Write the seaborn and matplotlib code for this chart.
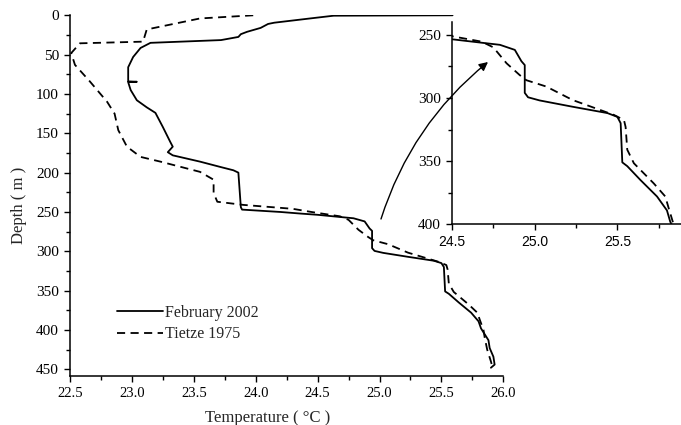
import matplotlib
matplotlib.use("Agg")
import matplotlib.pyplot as plt
import seaborn as sns
import pandas as pd
from matplotlib.lines import Line2D
from matplotlib.ticker import MultipleLocator

# ---- data ----
feb_depth = [0, 0.5, 3.8, 9.4, 11, 16, 21, 24, 27.5, 31.5, 35, 41.5, 53, 66, 84, 84.5, 85,
             95, 108, 117, 124, 142, 161, 167, 174, 178, 186, 193, 197, 200, 244, 247, 250, 252,
             253.6, 256.8, 258, 262, 271, 274, 296, 299.5, 302, 307, 312, 315, 320, 351, 354,
             365, 378, 389, 398, 413, 423, 434, 444, 448]
feb_temp = [25.59, 24.63, 24.45, 24.15, 24.10, 24.04, 23.93, 23.88, 23.86, 23.72, 23.15,
            23.07, 23.01, 22.97, 22.97, 23.04, 22.97, 22.99, 23.04, 23.12, 23.19, 23.25, 23.31,
            23.33, 23.29, 23.33, 23.55, 23.72, 23.82, 23.86, 23.88, 23.89, 24.20, 24.36,
            24.50, 24.71, 24.79, 24.88, 24.92, 24.94, 24.94, 24.96, 25.03, 25.23, 25.44, 25.50,
            25.52, 25.53, 25.56, 25.64, 25.74, 25.80, 25.82, 25.88, 25.89, 25.92, 25.93, 25.90]

tie_depth = [0, 4, 18, 33.5, 35.6, 48, 63, 84, 110, 125, 146, 167, 180, 186, 199, 209, 226,
             237, 241, 246, 250, 255.5, 260, 272.6, 282, 286, 291, 301.7, 313.5, 317.5, 323, 341,
             351.7, 367.6, 378, 387, 400, 410, 425, 440, 446]
tie_temp = [23.98, 23.55, 23.12, 23.09, 22.58, 22.51, 22.54, 22.66, 22.80, 22.86, 22.89, 22.96,
            23.07, 23.23, 23.55, 23.66, 23.66, 23.69, 23.90, 24.30, 24.45, 24.68, 24.75, 24.83,
            24.91, 24.95, 25.07, 25.23, 25.48, 25.54, 25.55, 25.56, 25.60, 25.72, 25.79, 25.81,
            25.84, 25.85, 25.87, 25.90, 25.91]

series_names = ["February 2002", "Tietze 1975"]
main_xticks = [22.5, 23.0, 23.5, 24.0, 24.5, 25.0, 25.5, 26.0]
main_yticks = [0, 50, 100, 150, 200, 250, 300, 350, 400, 450]
inset_xticks = [24.5, 25.0, 25.5]
inset_yticks = [250, 300, 350, 400]

df_feb = pd.DataFrame({"temp": feb_temp, "depth": feb_depth})
df_tie = pd.DataFrame({"temp": tie_temp, "depth": tie_depth})

sns.set_style("ticks")
plt.rcParams["font.family"] = ["Liberation Serif", "DejaVu Serif"]

W, H = 681, 425
fig = plt.figure(figsize=(W / 100, H / 100), dpi=100)

def box(l, t, r, b):
    return [l / W, (H - b) / H, (r - l) / W, (b - t) / H]

DASH = (0, (4.5, 3))
LW = 1.3

def draw(ax):
    sns.lineplot(data=df_feb, x="temp", y="depth", sort=False, estimator=None,
                 color="black", lw=LW, ax=ax, legend=False)
    sns.lineplot(data=df_tie, x="temp", y="depth", sort=False, estimator=None,
                 color="black", lw=LW, ax=ax, legend=False, linestyle=DASH)
    for s in ["top", "right"]:
        ax.spines[s].set_visible(False)
    for s in ["left", "bottom"]:
        ax.spines[s].set_linewidth(1.1)
        ax.spines[s].set_color("black")
    ax.tick_params(which="major", direction="out", length=4.5, width=1.0, colors="black")
    ax.tick_params(which="minor", direction="out", length=3, width=1.0, colors="black")
    ax.set_xlabel("")
    ax.set_ylabel("")

# ---- main axes ----
ax = fig.add_axes(box(70, 15.3, 503.3, 376))
draw(ax)
ax.set_xlim(22.5, 26.0)
ax.set_ylim(458.5, 0)
ax.set_xticks(main_xticks)
ax.set_yticks(main_yticks)
ax.xaxis.set_minor_locator(MultipleLocator(0.25))
ax.yaxis.set_minor_locator(MultipleLocator(25))
ax.set_xticklabels([f"{v:.1f}" for v in main_xticks], fontsize=10.5)
ax.set_yticklabels([str(v) for v in main_yticks], fontsize=11)
ax.set_xlabel("Temperature ( °C )", fontsize=12)
ax.xaxis.set_label_coords(0.455, -0.095)
ax.set_ylabel("Depth ( m )", fontsize=12)
ax.yaxis.set_label_coords(-0.10, 0.474)

handles = [Line2D([], [], color="black", lw=LW),
           Line2D([], [], color="black", lw=LW, linestyle=DASH)]
ax.legend(handles, series_names, frameon=False, loc="upper left",
          bbox_to_anchor=(0.108, 0.198), borderpad=0, borderaxespad=0,
          handlelength=2.9, handletextpad=0.1, labelspacing=0.35, fontsize=11.5)

# ---- inset ----
ins = fig.add_axes(box(452, 21.7, 681, 224.3))
ins.set_facecolor("white")
draw(ins)
ins.set_xlim(24.5, 25.885)
ins.set_ylim(400, 239.7)
ins.set_xticks(inset_xticks)
ins.set_yticks(inset_yticks)
ins.xaxis.set_minor_locator(MultipleLocator(0.25))
ins.yaxis.set_minor_locator(MultipleLocator(25))
ins.set_xticklabels([f"{v:.1f}" for v in inset_xticks], fontsize=10,
                    family=["Liberation Sans", "DejaVu Sans"])
ins.set_yticklabels([str(v) for v in inset_yticks], fontsize=11)

# ---- curved arrow (drawn on top of the inset) ----
arr = ins.annotate("", xy=(488, H - 62), xycoords="figure pixels",
                   xytext=(381, H - 219), textcoords="figure pixels",
                   arrowprops=dict(arrowstyle="-|>", connectionstyle="arc3,rad=-0.15",
                                   lw=1.0, color="black", mutation_scale=13,
                                   shrinkA=0, shrinkB=0),
                   annotation_clip=False, zorder=10)
arr.set_clip_on(False)
arr.arrow_patch.set_clip_on(False)

fig.savefig("out.png", dpi=100)
